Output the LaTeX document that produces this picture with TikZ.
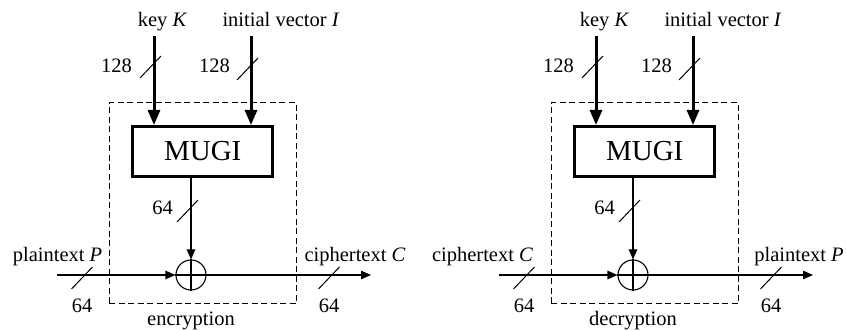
\documentclass[tikz,border=0pt]{standalone}
\usepackage{fontspec}
\setmainfont{Liberation Serif}
\usetikzlibrary{arrows.meta}

\tikzset{
  lbl/.style={font=\fontsize{20.5}{24}\selectfont, inner sep=0pt},
  thinline/.style={line width=1.1pt},
  thickline/.style={line width=3pt},
  thickarrow/.style={thickline, -{Triangle[length=15pt,width=12pt]}},
  thinarrow/.style={thinline, -{Triangle[length=10pt,width=8.5pt]}},
  busmark/.style={line width=1pt},
  frame/.style={draw, line width=1pt, dash pattern=on 6pt off 3.5pt, inner sep=0pt},
  mugibox/.style={draw, line width=3pt, minimum width=140pt, minimum height=50pt,
                  inner sep=0pt, font=\fontsize{29}{32}\selectfont},
  xorgate/.style={draw, circle, thinline, minimum size=30pt, inner sep=0pt},
}

% bus-width tick crossing a line at the given coordinate
\newcommand\busslash[1]{\draw[busmark] (#1) ++(-14,14) -- ++(21,-22);}

% one MUGI panel: #1 name prefix, #2 horizontal offset (pt),
% #3 input text, #4 its x, #5 output text, #6 its x, #7 caption
\newcommand\cipherpanel[7]{%
\begin{scope}[xshift=#2pt]
  % dashed outline of the unit
  \node[frame, minimum width=187pt, minimum height=201pt] (#1-frame) at (202.5,203.5) {};
  \node[lbl, anchor=base] (#1-cap) at (191,326) {#7};

  % keystream generator and its inputs
  \node[mugibox] (#1-mugi) at (202.7,151.5) {MUGI};
  \node[lbl, anchor=base] (#1-keylbl) at (162.5,27) {key \textit{K}};
  \node[lbl, anchor=base] (#1-ivlbl) at (281,27) {initial vector \textit{I}};
  \coordinate (#1-keyin) at (154,36);
  \coordinate (#1-ivin) at (251,36);
  \draw[thickarrow] (#1-keyin) -- (#1-keyin |- #1-mugi.north);
  \draw[thickarrow] (#1-ivin) -- (#1-ivin |- #1-mugi.north);
  \coordinate (#1-keybus) at (154,64);
  \coordinate (#1-ivbus) at (251,66);
  \busslash{#1-keybus}
  \busslash{#1-ivbus}
  \node[lbl, anchor=base east] (#1-keyw) at (132,73) {128};
  \node[lbl, anchor=base east] (#1-ivw) at (230,73) {128};

  % exclusive-or with the keystream
  \node[xorgate] (#1-xor) at (191,275) {};
  \draw[thinline] (#1-xor.north) -- (#1-xor.south);
  \draw[thinline] (#1-xor.west) -- (#1-xor.east);
  \draw[thinarrow] (#1-xor |- #1-mugi.south) -- (#1-xor.north);
  \coordinate (#1-ksbus) at (191,208);
  \busslash{#1-ksbus}
  \node[lbl, anchor=base east] (#1-ksw) at (173,215) {64};

  % data path
  \coordinate (#1-in) at (57,275);
  \coordinate (#1-out) at (371,275);
  \draw[thinarrow] (#1-in) -- (#1-xor.west);
  \draw[thinarrow] (#1-xor.east) -- (#1-out);
  \coordinate (#1-inbus) at (85.5,275);
  \coordinate (#1-outbus) at (332.5,275);
  \busslash{#1-inbus}
  \busslash{#1-outbus}
  \node[lbl, anchor=base] (#1-inw) at (82,313) {64};
  \node[lbl, anchor=base] (#1-outw) at (329,313) {64};
  \node[lbl, anchor=base] (#1-inlbl) at (#4,262) {#3};
  \node[lbl, anchor=base] (#1-outlbl) at (#6,262) {#5};
\end{scope}}

\begin{document}
\begin{tikzpicture}[x=1pt, y=-1pt]
  \useasboundingbox (0,0) rectangle (847,331);
  \cipherpanel{enc}{0}{plaintext \textit{P}}{57.5}{ciphertext \textit{C}}{355}{encryption}
  \cipherpanel{dec}{442}{ciphertext \textit{C}}{40.5}{plaintext \textit{P}}{357}{decryption}
\end{tikzpicture}
\end{document}
